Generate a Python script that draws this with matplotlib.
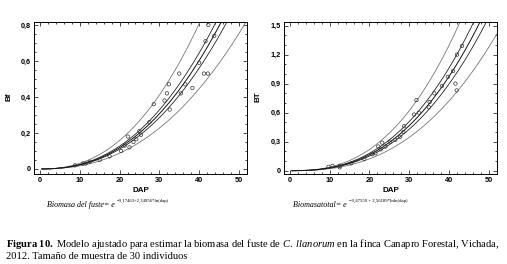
import matplotlib.pyplot as plt
import numpy as np
from matplotlib.ticker import MultipleLocator, FuncFormatter

plt.rcParams["mathtext.fontset"] = "custom"
plt.rcParams["mathtext.rm"] = "Liberation Serif"
plt.rcParams["mathtext.it"] = "Liberation Serif:italic"
plt.rcParams["mathtext.bf"] = "Liberation Serif:bold"

# fitted model coefficients shown under each panel
BF_A, BF_B = -9.17463, 2.34956
BT_A, BT_B = -9.47559, 2.56189

# band multipliers (prediction outer, confidence inner)
BF_BANDS = [1.34, 1.07, 0.93, 0.74]
BT_BANDS = [1.33, 1.09, 0.92, 0.74]

bf_dap = [8.8, 10.8, 11.5, 12.5, 15.0, 17.5, 20.4, 21.3, 22.1, 22.5,
          23.5, 24.2, 25.0, 25.4, 27.5, 28.6, 31.3, 31.9, 32.4, 32.6,
          35.0, 35.4, 36.5, 38.3, 40.0, 41.2, 42.2, 41.6, 42.3, 43.8]
bf_val = [0.02, 0.03, 0.03, 0.04, 0.05, 0.07, 0.10, 0.13, 0.18, 0.12,
          0.15, 0.165, 0.21, 0.19, 0.26, 0.36, 0.38, 0.42, 0.47, 0.33,
          0.53, 0.42, 0.47, 0.45, 0.59, 0.53, 0.53, 0.71, 0.80, 0.74]

bt_dap = [9.7, 10.7, 12.5, 12.5, 15.4, 18.7, 20.7, 21.5, 22.2, 22.8,
          23.2, 24.0, 25.2, 26.5, 27.7, 28.5, 28.7, 31.2, 31.8, 32.4,
          34.9, 35.1, 36.3, 38.2, 39.7, 41.0, 41.6, 41.9, 42.0, 43.25]
bt_val = [0.04, 0.05, 0.05, 0.035, 0.076, 0.12, 0.17, 0.18, 0.25, 0.22,
          0.29, 0.25, 0.30, 0.32, 0.35, 0.40, 0.46, 0.58, 0.73, 0.60,
          0.655, 0.71, 0.80, 0.876, 0.97, 1.03, 0.90, 0.83, 1.20, 1.29]

SANS = ["Liberation Sans", "DejaVu Sans"]
SERIF = ["Liberation Serif", "DejaVu Serif"]


def comma(v, _):
    if abs(v) < 1e-9:
        return "0"
    return f"{v:.1f}".replace(".", ",")


def panel(ax, a, b, bands, dap, val, ylabel, ylim, ymaj, ymin):
    x = np.linspace(0.5, 52, 300)
    fit = np.exp(a + b * np.log(x))
    for f, c in zip(bands, ["#777777", "#222222", "#222222", "#777777"]):
        ax.plot(x, fit * f, color=c, lw=0.6)
    ax.plot(x, fit, color="#111111", lw=0.7)
    ax.scatter(dap, val, s=6, facecolors="none", edgecolors="#333333",
               linewidths=0.5, zorder=3)
    ax.set_xlim(-1.5, 52)
    ax.set_ylim(*ylim)
    ax.xaxis.set_major_locator(MultipleLocator(10))
    ax.xaxis.set_minor_locator(MultipleLocator(2))
    ax.yaxis.set_major_locator(MultipleLocator(ymaj))
    ax.yaxis.set_minor_locator(MultipleLocator(ymin))
    ax.yaxis.set_major_formatter(FuncFormatter(comma))
    ax.tick_params(which="both", direction="in", top=True, right=True,
                   labelsize=5.3, width=0.5, pad=2)
    ax.tick_params(which="major", length=3)
    ax.tick_params(which="minor", length=1.5)
    for lab in ax.get_xticklabels() + ax.get_yticklabels():
        lab.set_family(SANS)
        lab.set_fontweight("bold")
    for s in ax.spines.values():
        s.set_linewidth(0.7)
    ax.set_xlabel("DAP", fontsize=5.8, family=SANS, fontweight="bold", labelpad=2)
    ax.set_ylabel(ylabel, fontsize=5.8, family=SANS, fontweight="bold")
    ax.yaxis.set_label_coords(-0.103, 0.507)


def formula(fig, x, main, exponent):
    t = fig.text(x, 0.222, main, fontsize=5.8, style="italic",
                 family=SERIF, va="center")
    fig.text(0, 0, "")
    plt.annotate(exponent, xy=(1.0, 1.0), xycoords=t,
                 xytext=(1.5, 0.3), textcoords="offset points",
                 fontsize=3.4, family=SERIF, va="center", ha="left")


fig = plt.figure(figsize=(5.07, 2.64), dpi=100)
ax1 = fig.add_axes([0.067, 0.341, 0.420, 0.576])
ax2 = fig.add_axes([0.560, 0.341, 0.420, 0.576])

panel(ax1, BF_A, BF_B, BF_BANDS, bf_dap, bf_val, "Bf", (-0.028, 0.817), 0.2, 0.05)
panel(ax2, BT_A, BT_B, BT_BANDS, bt_dap, bt_val, "BT", (-0.034, 1.538), 0.3, 0.1)

formula(fig, 0.093, "Biomasa del fuste= e", "\u22129,17463+2,34956*ln(dap)")
formula(fig, 0.578, "Biomasatotal= e", "\u22129,47559 + 2,56189*lnln(dap)")

fig.text(0.012, 0.057,
         r"$\bf{Figura\ 10.}$ Modelo ajustado para estimar la biomasa del fuste de "
         r"$\it{C.\ llanorum}$ en la finca Canapro Forestal, Vichada," "\n"
         "2012. Tamaño de muestra de 30 individuos",
         fontsize=7.6, family=SERIF, va="center", linespacing=1.2)

fig.savefig("out.png", dpi=100)
